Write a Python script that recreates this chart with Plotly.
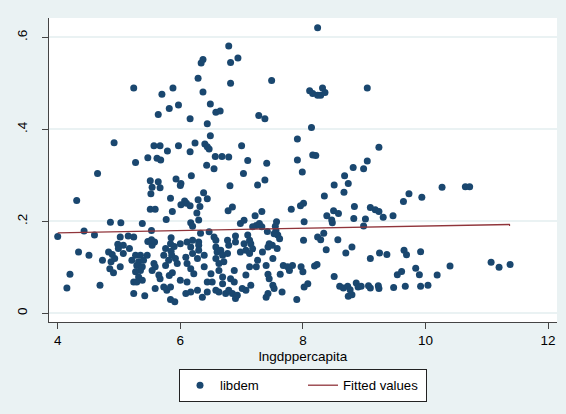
import plotly.graph_objects as go

# lngdppercapita / libdem pairs, grouped by region of the scatter
upper_x = [8.24, 6.79, 6.82, 6.94, 6.37, 6.34, 6.29, 6.82, 7.49, 5.24, 5.88, 5.70, 6.37, 9.05,
           8.11, 8.16, 8.29, 8.32, 8.36, 8.24,
           5.97, 5.82, 6.49, 6.58, 6.65, 5.64, 6.16, 7.28, 7.38, 6.44, 8.14, 6.49, 7.91, 4.92,
           6.24, 6.40, 6.44, 6.47, 5.57, 5.67, 5.97, 7.00, 9.24, 5.79, 6.16, 6.57, 6.68, 6.79,
           8.16, 8.21, 5.47, 5.62, 5.68, 7.91, 7.10, 9.05, 5.27, 7.41, 6.43, 8.82, 8.99, 6.55,
           7.99, 4.65, 7.03, 6.18, 8.68, 5.93, 7.38, 5.51, 5.64, 8.74, 6.01, 6.00, 8.51, 7.26,
           6.81, 5.54, 5.67, 5.52, 10.27, 10.65, 10.72, 6.38, 8.67, 9.73, 8.35, 9.94, 5.84, 6.44,
           6.29, 4.31, 9.64, 6.07, 6.10, 8.01, 7.96, 6.16, 6.32, 6.01, 5.51, 5.59, 8.84, 9.10,
           9.18, 9.24, 9.31, 7.81, 6.78, 6.85, 8.50, 8.58, 5.87, 6.27, 6.30, 7.33, 7.22, 9.47,
           8.39, 8.47, 8.48, 5.77, 8.83, 9.02, 8.99]
upper_y = [0.621, 0.581, 0.545, 0.555, 0.552, 0.544, 0.511, 0.500, 0.506, 0.490, 0.490, 0.476, 0.481, 0.490,
           0.484, 0.478, 0.474, 0.490, 0.480, 0.474,
           0.453, 0.445, 0.455, 0.437, 0.440, 0.432, 0.423, 0.430, 0.423, 0.412, 0.404, 0.386, 0.379, 0.371,
           0.370, 0.368, 0.362, 0.357, 0.364, 0.364, 0.364, 0.364, 0.361, 0.353, 0.351, 0.341, 0.341, 0.340,
           0.344, 0.343, 0.338, 0.337, 0.333, 0.333, 0.332, 0.331, 0.328, 0.326, 0.322, 0.317, 0.314, 0.314,
           0.307, 0.304, 0.304, 0.299, 0.299, 0.292, 0.290, 0.288, 0.286, 0.282, 0.282, 0.278, 0.279, 0.279,
           0.277, 0.274, 0.273, 0.260, 0.274, 0.275, 0.275, 0.262, 0.263, 0.260, 0.255, 0.252, 0.250, 0.249,
           0.247, 0.245, 0.243, 0.244, 0.239, 0.239, 0.234, 0.234, 0.232, 0.236, 0.226, 0.226, 0.232, 0.230,
           0.225, 0.221, 0.209, 0.226, 0.223, 0.231, 0.223, 0.217, 0.221, 0.218, 0.203, 0.221, 0.212, 0.212,
           0.212, 0.203, 0.197, 0.204, 0.206, 0.205, 0.190]

low_x = [4.86, 5.03, 4.43, 4.60, 4.00, 5.02, 4.98, 4.99, 5.07, 4.34, 4.51, 4.83, 4.89, 4.73,
         4.87, 4.93, 5.07, 4.85, 4.91, 5.02, 4.20, 4.15, 4.69]
low_y = [0.198, 0.197, 0.179, 0.170, 0.167, 0.166, 0.150, 0.141, 0.148, 0.133, 0.126, 0.133, 0.128, 0.115,
         0.112, 0.119, 0.130, 0.097, 0.088, 0.101, 0.085, 0.055, 0.061]

mid1_x = [5.38, 5.53, 5.15, 5.24, 5.47, 5.58, 5.54, 5.85, 5.84, 6.00, 5.17, 5.27, 5.35, 5.46,
          5.21, 5.32, 5.40, 5.29, 5.38, 5.35, 5.27, 5.32, 5.38, 5.24, 5.29, 5.76, 5.73, 5.86,
          5.92, 5.81, 5.95, 5.76, 5.57, 5.59, 5.54, 5.65, 5.67, 5.59, 5.73, 5.78, 5.84, 6.00,
          5.24, 5.42, 5.84, 5.91, 5.53, 5.90, 5.85, 5.82, 5.87]
mid1_y = [0.195, 0.180, 0.168, 0.166, 0.156, 0.155, 0.148, 0.164, 0.151, 0.151, 0.141, 0.126, 0.126, 0.126,
          0.115, 0.112, 0.115, 0.104, 0.101, 0.093, 0.090, 0.079, 0.072, 0.068, 0.068, 0.141, 0.126, 0.126,
          0.119, 0.115, 0.108, 0.104, 0.108, 0.101, 0.093, 0.083, 0.075, 0.054, 0.057, 0.050, 0.057, 0.072,
          0.043, 0.038, 0.030, 0.025, 0.160, 0.145, 0.135, 0.082, 0.088]

mid2_x = [6.98, 7.04, 6.47, 6.55, 6.58, 6.90, 6.77, 6.79, 6.90, 7.04, 6.11, 6.20, 6.30, 6.17,
          6.30, 6.30, 6.20, 6.09, 6.28, 6.39, 6.58, 6.60, 6.66, 6.69, 6.58, 6.63, 6.71, 6.77,
          6.98, 7.07, 6.11, 6.17, 6.22, 6.39, 6.50, 6.63, 6.69, 6.88, 6.82, 6.88, 7.07, 6.11,
          6.44, 6.52, 6.69, 7.01, 7.07, 6.09, 6.17, 6.28, 6.36, 6.44, 6.58, 6.63, 6.74, 6.85,
          6.90, 6.93, 6.79, 6.17, 6.20, 6.33]
mid2_y = [0.195, 0.202, 0.177, 0.166, 0.159, 0.168, 0.159, 0.148, 0.155, 0.151, 0.155, 0.159, 0.155, 0.144,
          0.148, 0.137, 0.130, 0.122, 0.119, 0.126, 0.144, 0.133, 0.137, 0.126, 0.119, 0.108, 0.112, 0.130,
          0.133, 0.137, 0.108, 0.097, 0.086, 0.101, 0.086, 0.093, 0.079, 0.093, 0.075, 0.068, 0.083, 0.068,
          0.068, 0.068, 0.064, 0.054, 0.050, 0.043, 0.046, 0.050, 0.035, 0.046, 0.050, 0.046, 0.043, 0.043,
          0.032, 0.039, 0.050, 0.197, 0.189, 0.174]

mid3_x = [7.24, 7.29, 7.18, 7.33, 7.56, 7.59, 7.53, 7.62, 8.02, 7.10, 7.13, 7.15, 7.18, 7.45,
          7.50, 7.43, 7.58, 7.34, 7.13, 8.01, 7.26, 7.24, 7.13, 7.51, 7.40, 7.68, 7.75, 7.83,
          7.78, 7.97, 8.00, 7.63, 7.43, 7.45, 7.15, 7.51, 7.53, 8.08, 8.02, 7.43, 7.40, 7.66,
          7.90, 7.57, 7.55, 7.42]
mid3_y = [0.191, 0.195, 0.188, 0.188, 0.180, 0.170, 0.173, 0.162, 0.199, 0.170, 0.159, 0.151, 0.140, 0.151,
          0.148, 0.144, 0.141, 0.133, 0.130, 0.159, 0.115, 0.101, 0.101, 0.119, 0.104, 0.104, 0.101, 0.104,
          0.093, 0.101, 0.090, 0.085, 0.085, 0.075, 0.061, 0.061, 0.054, 0.064, 0.057, 0.043, 0.035, 0.046,
          0.030, 0.199, 0.189, 0.178]

right_x = [8.19, 8.23, 8.24, 8.29, 8.34, 8.38, 8.51, 8.57, 8.60, 8.66, 8.73, 8.77, 8.74, 8.80,
           8.87, 8.90, 8.95, 8.70, 8.80, 9.07, 9.10, 9.10, 9.23, 9.24, 9.25, 9.37, 9.48, 9.54,
           9.61, 9.65, 9.69, 9.67, 9.84, 9.90, 9.92, 9.92, 10.04, 10.19, 10.40, 11.07, 11.20, 11.38]
right_y = [0.103, 0.106, 0.166, 0.160, 0.174, 0.138, 0.080, 0.160, 0.059, 0.055, 0.059, 0.051, 0.037, 0.040,
           0.066, 0.057, 0.059, 0.131, 0.144, 0.060, 0.055, 0.119, 0.060, 0.054, 0.131, 0.128, 0.056, 0.084,
           0.091, 0.137, 0.127, 0.059, 0.098, 0.084, 0.134, 0.059, 0.061, 0.083, 0.103, 0.111, 0.100, 0.106]

# Linear fit of libdem on lngdppercapita
fit_intercept = 0.1652
fit_slope = 0.00244

x_ticks = [4, 6, 8, 10, 12]
y_ticks = [0, 0.2, 0.4, 0.6]
y_tick_text = ["0", ".2", ".4", ".6"]

lng = upper_x + low_x + mid1_x + mid2_x + mid3_x + right_x
libdem = upper_y + low_y + mid1_y + mid2_y + mid3_y + right_y

fit_x = [min(lng), max(lng)]
fit_y = [fit_intercept + fit_slope * v for v in fit_x]

NAVY = "#1A476F"
MAROON = "#90353B"
BG = "#EAF2F3"
FONT = "Liberation Sans, Arial, sans-serif"

fig = go.Figure()
fig.add_trace(go.Scatter(
    x=lng, y=libdem, mode="markers", name="libdem",
    marker=dict(color=NAVY, size=7, line=dict(width=0)),
))
fig.add_trace(go.Scatter(
    x=fit_x, y=fit_y, mode="lines", name="Fitted values",
    line=dict(color=MAROON, width=1.3),
))

fig.update_layout(
    width=566, height=414,
    margin=dict(l=49, r=9, t=18, b=92),
    paper_bgcolor=BG, plot_bgcolor="white",
    font=dict(family=FONT, size=13, color="#000000"),
    showlegend=True,
    legend=dict(
        orientation="h", x=0.5, xanchor="center", y=-0.155, yanchor="top",
        bgcolor="white", bordercolor="#222222", borderwidth=1,
        font=dict(size=13.2), itemwidth=30, tracegroupgap=0, entrywidth=78,
    ),
)
fig.update_xaxes(
    range=[3.858, 12.145], tickvals=x_ticks, ticks="outside", ticklen=6,
    tickcolor="#444444", showline=True, linecolor="#444444", linewidth=1,
    showgrid=False, zeroline=False, mirror=False,
    title=dict(text="lngdppercapita", standoff=4, font=dict(size=13.5)),
    tickfont=dict(size=13.5),
)
fig.update_yaxes(
    range=[-0.019, 0.642], tickvals=y_ticks, ticktext=y_tick_text, tickangle=-90,
    ticks="outside", ticklen=6, tickcolor="#444444", showline=True,
    linecolor="#444444", linewidth=1, showgrid=True, gridcolor=BG, gridwidth=2,
    zeroline=False, tickfont=dict(size=13.5), ticklabelstandoff=10,
)

fig.write_html("out.html")
